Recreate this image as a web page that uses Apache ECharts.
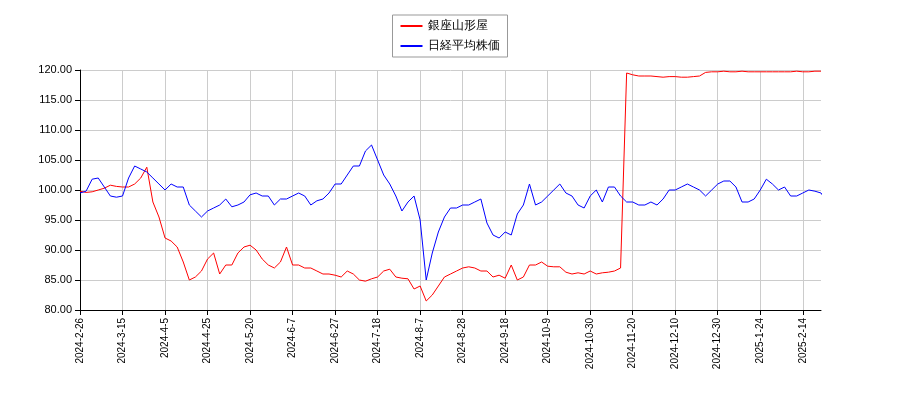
<!DOCTYPE html><html><head><meta charset="utf-8"><script src="https://cdn.jsdelivr.net/npm/echarts@6/dist/echarts.min.js"></script></head><body style="margin:0"><div id="c" style="width:900px;height:400px"></div><script>
const tickLabels=['2024-2-26','2024-3-15','2024-4-5','2024-4-25','2024-5-20','2024-6-7','2024-6-27','2024-7-18','2024-8-7','2024-8-28','2024-9-18','2024-10-9','2024-10-30','2024-11-20','2024-12-10','2024-12-30','2025-1-24','2025-2-14'];
const ginza=[99.8,99.6,99.7,100,100.3,100.8,100.6,100.5,100.5,101,102,103.8,98,95.5,92,91.5,90.5,88,85,85.5,86.5,88.5,89.5,86,87.5,87.5,89.5,90.5,90.8,90,88.5,87.5,87,88,90.5,87.5,87.5,87,87,86.5,86,86,85.8,85.5,86.5,86,85,84.8,85.2,85.5,86.5,86.8,85.5,85.3,85.2,83.5,84,81.5,82.5,84,85.5,86,86.5,87,87.2,87,86.5,86.5,85.5,85.8,85.3,87.5,85,85.5,87.5,87.5,88,87.3,87.2,87.2,86.3,86,86.2,86,86.5,86,86.2,86.3,86.5,87,119.5,119.2,119,119,119,118.9,118.8,118.9,118.9,118.8,118.8,118.9,119,119.6,119.7,119.7,119.8,119.7,119.7,119.8,119.7,119.7,119.7,119.7,119.7,119.7,119.7,119.7,119.8,119.7,119.7,119.8,119.8];
const nikkei=[99.5,99.8,101.8,102,100.5,99,98.8,99,102,104,103.5,103,102,101,100,101,100.5,100.5,97.5,96.5,95.5,96.5,97,97.5,98.5,97.2,97.5,98,99.2,99.5,99,99,97.5,98.5,98.5,99,99.5,99,97.5,98.2,98.5,99.5,101,101,102.5,104,104,106.5,107.5,105,102.5,101,99,96.5,98,99,95,85,89.5,93,95.5,97,97,97.5,97.5,98,98.5,94.5,92.5,92,93,92.5,96,97.5,101,97.5,98,99,100,101,99.5,99,97.5,97,99,100,98,100.5,100.5,99,98,98,97.5,97.5,98,97.5,98.5,100,100,100.5,101,100.5,100,99,100,101,101.5,101.5,100.5,98,98,98.5,100,101.8,101,100,100.5,99,99,99.5,100,99.8,99.5,98];
const cats=ginza.map((_,i)=>String(i));
const ch=echarts.init(document.getElementById('c'));
ch.setOption({animation:false,
legend:{top:15,left:'center',orient:'vertical',icon:'rect',itemWidth:22,itemHeight:2,borderColor:'#999',borderWidth:1,borderRadius:0,padding:[5,8],textStyle:{fontSize:12,color:'#000'},data:['銀座山形屋','日経平均株価']},
grid:{left:80,right:79,top:70,bottom:90},
xAxis:{type:'category',data:cats,boundaryGap:false,axisLine:{lineStyle:{color:'#000'}},axisTick:{interval:i=>i%7===0,lineStyle:{color:'#000'}},
 splitLine:{show:true,interval:i=>i%7===0,lineStyle:{color:'#ccc'}},
 axisLabel:{rotate:90,fontSize:10,color:'#000',interval:i=>i%7===0,formatter:(v,i)=>tickLabels[i/7]||''}},
yAxis:{type:'value',min:80,max:120,interval:5,axisLine:{show:true,lineStyle:{color:'#000'}},axisTick:{show:true},axisLabel:{color:'#000',fontSize:11,formatter:v=>v.toFixed(2)},splitLine:{lineStyle:{color:'#ccc'}}},
series:[{name:'銀座山形屋',type:'line',data:ginza,showSymbol:false,lineStyle:{color:'#f00',width:1},itemStyle:{color:'#f00'}},
{name:'日経平均株価',type:'line',data:nikkei,showSymbol:false,lineStyle:{color:'#00f',width:1},itemStyle:{color:'#00f'}}]});
</script></body></html>
